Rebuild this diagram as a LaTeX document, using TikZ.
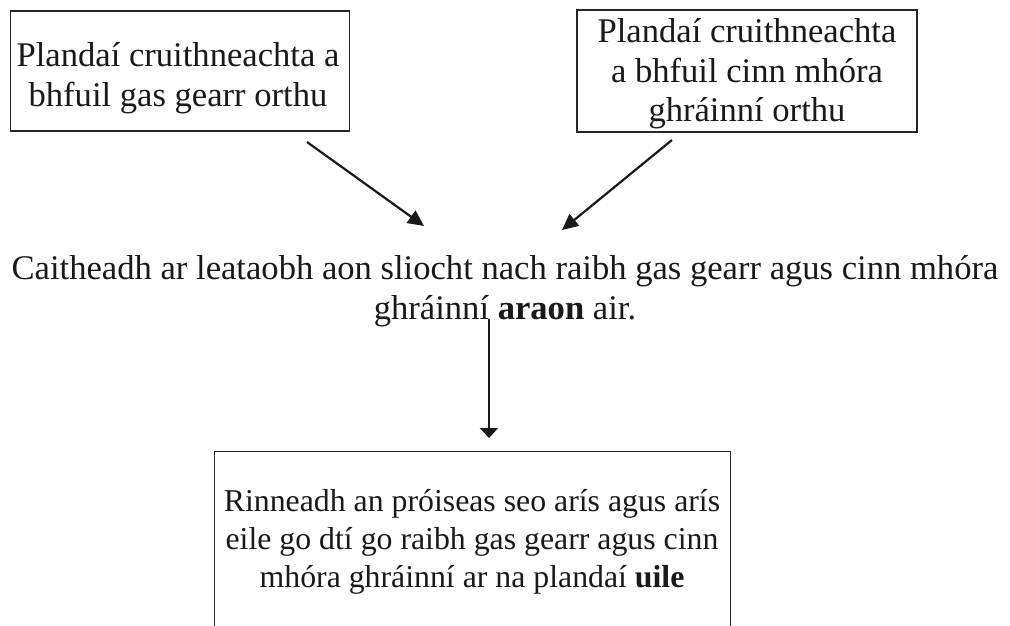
\documentclass[tikz,border=0pt]{standalone}
\usepackage{fontspec}
\setmainfont{Liberation Serif}
\usetikzlibrary{arrows.meta}
\begin{document}
\begin{tikzpicture}[x=1pt,y=-1pt,
  txt/.style={font=\fontsize{34.6}{39.5}\selectfont, align=center, inner sep=0pt, text=black!90},
  stxt/.style={font=\fontsize{31.8}{38}\selectfont, align=center, inner sep=0pt, text=black!90},
  box/.style={draw=black!85, line width=1.3pt, rectangle},
  arr/.style={line width=2.2pt, draw=black!90, -{Triangle[length=16pt,width=15pt]}},
  varr/.style={line width=2.2pt, draw=black!90, -{Triangle[length=10pt,width=18pt]}}]
\useasboundingbox (0,0) rectangle (1010,626);
\clip (0,0) rectangle (1010,626);
% boxes
\node[box, minimum width=339pt, minimum height=120pt] (b1) at (180,71) {};
\node[txt] (t1) at (178,78) {Plandaí cruithneachta a\\bhfuil gas gearr orthu};
\node[box, minimum width=340pt, minimum height=122pt] (b2) at (747,71) {};
\node[txt] (t2) at (747,74) {Plandaí cruithneachta\\a bhfuil cinn mhóra\\ghráinní orthu};
\node[txt] (mid) at (505,291) {Caitheadh ar leataobh aon sliocht nach raibh gas gearr agus cinn mhóra\\ghráinní \textbf{araon} air.};
\node[box, anchor=north west, minimum width=516pt, minimum height=250pt] (b3) at (214,451) {};
\node[stxt] (t3) at (472,542) {Rinneadh an próiseas seo arís agus arís\\eile go dtí go raibh gas gearr agus cinn\\mhóra ghráinní ar na plandaí \textbf{uile}};
% connectors
\coordinate (s1) at (307,142);
\coordinate (e1) at (424,226);
\coordinate (s2) at (672,140);
\coordinate (e2) at (562,230);
\coordinate (s3) at (489,319);
\coordinate (e3) at (489,438);
\draw[arr] (s1) -- (e1);
\draw[arr] (s2) -- (e2);
\draw[varr] (s3) -- (e3);
\end{tikzpicture}
\end{document}
